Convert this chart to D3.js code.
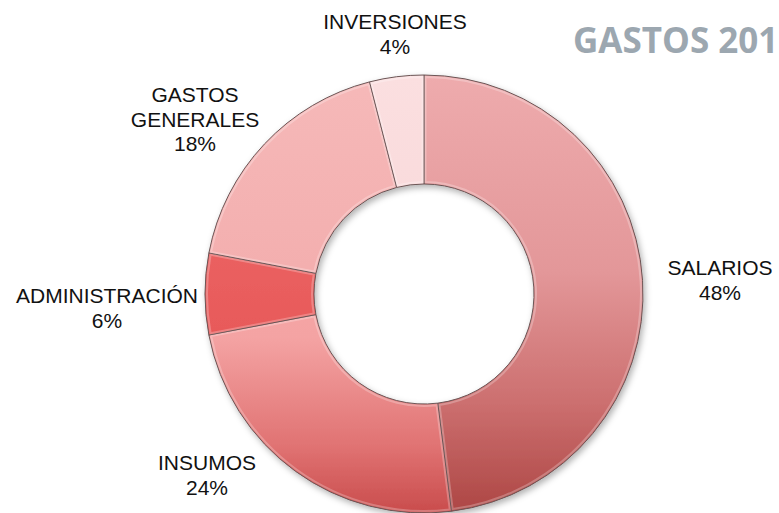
<!DOCTYPE html>
<html>
<head>
<meta charset="utf-8">
<script src="https://cdn.jsdelivr.net/npm/d3@7"></script>
<style>
  html, body { margin: 0; padding: 0; background: #fff; }
  svg { display: block; }
</style>
</head>
<body>
<div id="chart"></div>
<script>
const categories = ["SALARIOS", "INSUMOS", "ADMINISTRACIÓN", "GASTOS GENERALES", "INVERSIONES"];
const values = [48, 24, 6, 18, 4];
const labelLines = [["SALARIOS"], ["INSUMOS"], ["ADMINISTRACIÓN"], ["GASTOS", "GENERALES"], ["INVERSIONES"]];
const title = "GASTOS 201";

// gradient stops per slice (top of ring -> bottom of ring)
const sliceColors = [
  [["0", "#eeabad"], ["0.45", "#e39799"], ["0.75", "#cc6f6f"], ["1", "#ad4644"]],
  [["0", "#f8b2b2"], ["0.6", "#f4a3a3"], ["0.85", "#e07272"], ["1", "#c94c4c"]],
  [["0", "#f07070"], ["1", "#e24a4a"]],
  [["0", "#f6b9b9"], ["1", "#f0a2a2"]],
  [["0", "#fbdfe0"], ["1", "#f6d0d2"]]
];

const width = 779, height = 513;
const cx = 424, cy = 294;
const outerR = 219, innerR = 110;

// where Excel dropped each label (first baseline, centred)
const labelAnchors = [[720, 275], [207, 470], [107, 303], [195, 102], [395, 29]];

const svg = d3.select("#chart").append("svg")
  .attr("width", width)
  .attr("height", height)
  .attr("viewBox", [0, 0, width, height]);

const defs = svg.append("defs");

const shadow = defs.append("filter")
  .attr("id", "shadow")
  .attr("x", "-20%").attr("y", "-20%")
  .attr("width", "140%").attr("height", "140%");
shadow.append("feDropShadow")
  .attr("dx", 2).attr("dy", 3)
  .attr("stdDeviation", 3)
  .attr("flood-color", "#000")
  .attr("flood-opacity", 0.3);

// gradients live in the ring's own coordinates (centre = 0,0)
sliceColors.forEach(function(stops, i){
  const g = defs.append("linearGradient")
    .attr("id", "grad" + i)
    .attr("gradientUnits", "userSpaceOnUse")
    .attr("x1", 0).attr("y1", -outerR)
    .attr("x2", 0).attr("y2", outerR);
  stops.forEach(function(s){
    g.append("stop").attr("offset", s[0]).attr("stop-color", s[1]);
  });
});

const pie = d3.pie().sort(null).value(d => d);
const arcs = pie(values);

const arc = d3.arc()
  .innerRadius(innerR)
  .outerRadius(outerR);

const ring = svg.append("g")
  .attr("transform", `translate(${cx},${cy})`)
  .attr("filter", "url(#shadow)");

ring.selectAll("path.slice")
  .data(arcs)
  .enter().append("path")
  .attr("class", "slice")
  .attr("d", arc)
  .attr("fill", (d, i) => `url(#grad${i})`)
  .attr("stroke", "#6b5555")
  .attr("stroke-width", 1);

// soft highlight just inside each slice edge
const bevel = d3.arc()
  .innerRadius(innerR + 2)
  .outerRadius(outerR - 2)
  .padAngle(0.012);

ring.selectAll("path.bevel")
  .data(arcs)
  .enter().append("path")
  .attr("class", "bevel")
  .attr("d", bevel)
  .attr("fill", "none")
  .attr("stroke", "#fff")
  .attr("stroke-opacity", 0.25)
  .attr("stroke-width", 2);

const labels = svg.append("g")
  .attr("font-family", "'Liberation Sans', Arial, Helvetica, sans-serif")
  .attr("font-size", 21)
  .attr("fill", "#111")
  .attr("text-anchor", "middle");

arcs.forEach(function(d, i){
  const lines = labelLines[i].concat([values[i] + "%"]);
  const t = labels.append("text")
    .attr("x", labelAnchors[i][0])
    .attr("y", labelAnchors[i][1]);
  lines.forEach(function(line, j){
    t.append("tspan")
      .attr("x", labelAnchors[i][0])
      .attr("dy", j === 0 ? 0 : 24.5)
      .text(line);
  });
});

svg.append("text")
  .attr("x", 573)
  .attr("y", 53)
  .attr("font-family", "'Open Sans', sans-serif")
  .attr("font-weight", "bold")
  .attr("font-size", 35)
  .attr("fill", "#9ca7b0")
  .text(title);
</script>
</body>
</html>
